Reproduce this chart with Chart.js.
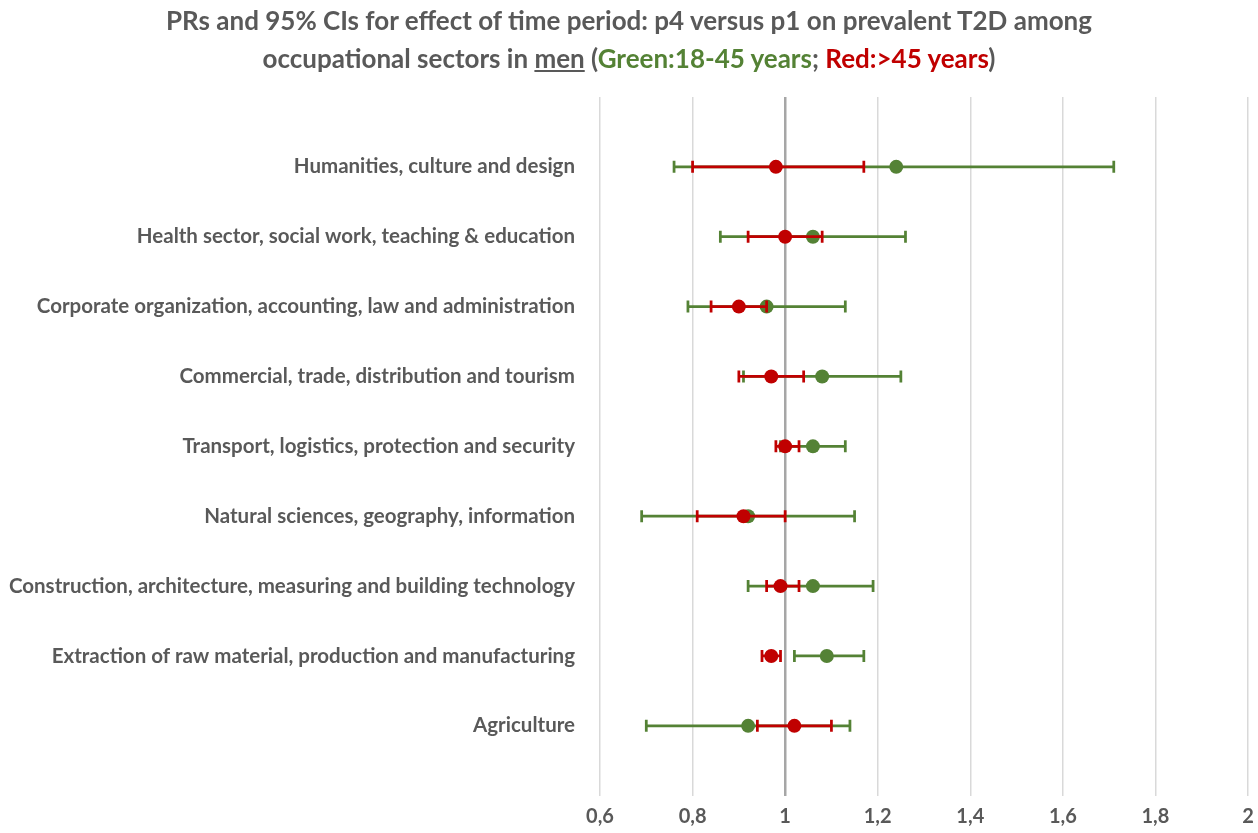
<!DOCTYPE html>
<html>
<head>
<meta charset="utf-8">
<script src="https://cdn.jsdelivr.net/npm/chart.js@4"></script>
<style>
    html, body { margin: 0; padding: 0; background: #fff; }
    #wrap { position: relative; width: 1258px; height: 833px; }
    #title {
        position: absolute; left: 0; top: 1px; width: 1258px;
        text-align: center; font-family: Lato, "Open Sans", sans-serif;
        font-weight: bold; font-size: 26px; line-height: 38px; color: #595959;
    }
    #title .g { color: #548235; }
    #title .r { color: #c00000; }
    canvas { position: absolute; left: 0; top: 0; }
</style>
</head>
<body>
<div id="wrap">
    <canvas id="forest" width="1258" height="833"></canvas>
    <div id="title">PRs and 95% CIs for effect of time period: p4 versus p1 on prevalent T2D among<br>
        occupational sectors in <u>men</u> (<span class="g">Green:18-45 years</span>; <span class="r">Red:&gt;45 years</span>)</div>
</div>
<script>
// sectors top to bottom
const sectors = [
    'Humanities, culture and design',
    'Health sector, social work, teaching & education',
    'Corporate organization, accounting, law and administration',
    'Commercial, trade, distribution and tourism',
    'Transport, logistics, protection and security',
    'Natural sciences, geography, information',
    'Construction, architecture, measuring and building technology',
    'Extraction of raw material, production and manufacturing',
    'Agriculture'
];

// 18-45 years (green)
const youngPR = [1.24, 1.06, 0.96, 1.08, 1.06, 0.92, 1.06, 1.09, 0.92];
const youngLo = [0.76, 0.86, 0.79, 0.91, 0.99, 0.69, 0.92, 1.02, 0.70];
const youngHi = [1.71, 1.26, 1.13, 1.25, 1.13, 1.15, 1.19, 1.17, 1.14];

// >45 years (red)
const oldPR = [0.98, 1.00, 0.90, 0.97, 1.00, 0.91, 0.99, 0.97, 1.02];
const oldLo = [0.80, 0.92, 0.84, 0.90, 0.98, 0.81, 0.96, 0.95, 0.94];
const oldHi = [1.17, 1.08, 0.96, 1.04, 1.03, 1.00, 1.03, 0.99, 1.10];

const xTicks = [0.6, 0.8, 1, 1.2, 1.4, 1.6, 1.8, 2];

const GREEN = '#548235';
const RED = '#c00000';
const GREY = '#595959';
const FONT = 'Lato, "Open Sans", sans-serif';

function ciPoints(lo, hi) {
    const pts = [];
    lo.forEach((l, i) => {
        pts.push({ x: l, y: i + 1 }, { x: hi[i], y: i + 1 }, { x: null, y: null });
    });
    return pts;
}

function estPoints(pr) {
    return pr.map((v, i) => ({ x: v, y: i + 1 }));
}

function ciDataset(lo, hi, color, order) {
    return {
        data: ciPoints(lo, hi),
        showLine: true,
        spanGaps: false,
        borderColor: color,
        borderWidth: 2.75,
        pointStyle: 'line',
        pointRotation: 90,
        pointRadius: 6,
        pointBorderWidth: 2.75,
        pointBorderColor: color,
        order: order
    };
}

function estDataset(pr, color, order) {
    return {
        data: estPoints(pr),
        showLine: false,
        pointStyle: 'circle',
        pointRadius: 7,
        backgroundColor: color,
        borderColor: color,
        borderWidth: 0,
        order: order
    };
}

new Chart(document.getElementById('forest').getContext('2d'), {
    type: 'scatter',
    data: {
        datasets: [
            ciDataset(youngLo, youngHi, GREEN, 4),
            estDataset(youngPR, GREEN, 3),
            ciDataset(oldLo, oldHi, RED, 2),
            estDataset(oldPR, RED, 1)
        ]
    },
    options: {
        responsive: false,
        animation: false,
        layout: { padding: { top: 97, right: 0, bottom: 0, left: 0 } },
        plugins: {
            legend: { display: false },
            tooltip: { enabled: false }
        },
        scales: {
            x: {
                type: 'linear',
                min: 0.6,
                max: 2,
                afterBuildTicks: scale => { scale.ticks = xTicks.map(v => ({ value: v })); },
                afterFit: scale => { scale.height = 33; scale.paddingRight = 10; },
                border: { display: false },
                grid: {
                    drawTicks: false,
                    color: c => c.tick && c.tick.value === 1 ? '#a6a6a6' : '#d9d9d9',
                    lineWidth: c => c.tick && c.tick.value === 1 ? 2.5 : 1.5
                },
                ticks: {
                    padding: 9,
                    color: GREY,
                    font: { family: FONT, size: 20, weight: 'bold' },
                    callback: v => String(Math.round(v * 10) / 10).replace('.', ',')
                }
            },
            y: {
                type: 'linear',
                reverse: true,
                min: 0,
                max: 10,
                afterBuildTicks: scale => { scale.ticks = sectors.map((s, i) => ({ value: i + 1 })); },
                afterFit: scale => { scale.width = 600; },
                border: { display: false },
                grid: { display: false, drawTicks: false },
                ticks: {
                    padding: 25,
                    color: GREY,
                    font: { family: FONT, size: 20.5, weight: 'bold' },
                    callback: v => sectors[v - 1]
                }
            }
        }
    }
});
</script>
</body>
</html>
